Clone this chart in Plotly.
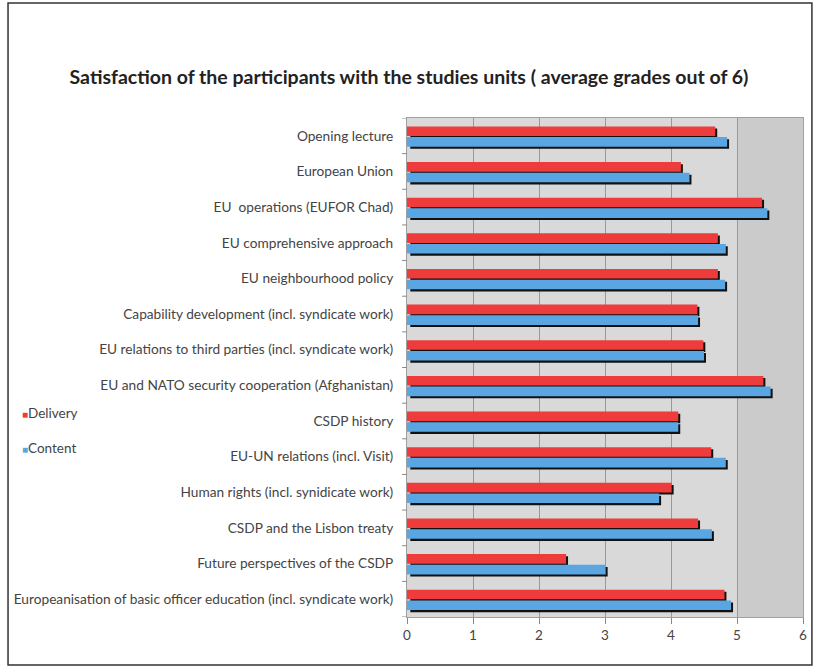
import plotly.graph_objects as go

categories = [
    "Opening lecture",
    "European Union",
    "EU  operations (EUFOR Chad)",
    "EU comprehensive approach",
    "EU neighbourhood policy",
    "Capability development (incl. syndicate work)",
    "EU relations to third parties (incl. syndicate work)",
    "EU and NATO security cooperation (Afghanistan)",
    "CSDP history",
    "EU-UN relations (incl. Visit)",
    "Human rights (incl. synidicate work)",
    "CSDP and the Lisbon treaty",
    "Future perspectives of the CSDP",
    "Europeanisation of basic officer education (incl. syndicate work)",
]
delivery = [4.67, 4.15, 5.38, 4.71, 4.71, 4.40, 4.49, 5.40, 4.11, 4.61, 4.01, 4.41, 2.41, 4.81]
content = [4.85, 4.28, 5.46, 4.83, 4.82, 4.41, 4.50, 5.51, 4.11, 4.83, 3.82, 4.62, 3.01, 4.91]
x_ticks = [0, 1, 2, 3, 4, 5, 6]
series_names = ["Delivery", "Content"]

n = len(categories)
pos = [n - 1 - i for i in range(n)]
RED = "#ee3b3b"
BLUE = "#5aa6e2"
FONT = "Lato, 'Open Sans', sans-serif"
PW, PH = 400, 499  # plot area in px

fig = go.Figure()

# shadows
for vals, off in [(delivery, 0.13), (content, -0.17)]:
    fig.add_trace(go.Bar(
        y=[p + off - 0.06 for p in pos], x=[v + 0.03 - 0.05 for v in vals], base=0.05,
        orientation="h", width=0.27, marker=dict(color="#111111", line_width=0),
        showlegend=False, hoverinfo="skip",
    ))

fig.add_trace(go.Bar(
    y=[p + 0.13 for p in pos], x=delivery, orientation="h", width=0.27,
    marker=dict(color=RED, line_width=0), name=series_names[0], showlegend=False,
))
fig.add_trace(go.Bar(
    y=[p - 0.17 for p in pos], x=content, orientation="h", width=0.27,
    marker=dict(color=BLUE, line_width=0), name=series_names[1], showlegend=False,
))

annotations = []
for name, col, ypx in [(series_names[0], RED, 413), (series_names[1], BLUE, 448)]:
    annotations.append(dict(
        xref="paper", yref="paper", x=(16 - 407) / PW, y=1 - (ypx - 118) / PH,
        xanchor="left", yanchor="middle", showarrow=False,
        text=f"<span style='color:{col};font-size:10px'>■</span>{name}",
        font=dict(family=FONT, size=13.5, color="#444444"),
    ))

fig.update_layout(
    width=818, height=668,
    margin=dict(l=407, r=11, t=118, b=51),
    paper_bgcolor="white",
    plot_bgcolor="#d9d9d9",
    barmode="overlay",
    title=dict(
        text="<b>Satisfaction of the participants with the studies units ( average grades out of 6)</b>",
        x=0.5, xanchor="center", xref="container", y=1 - 77 / 668, yanchor="middle",
        font=dict(family=FONT, size=19.5, color="#222222"),
    ),
    font=dict(family=FONT, size=13.7, color="#444444"),
    annotations=annotations,
    xaxis=dict(
        range=[0, 6], tickvals=x_ticks, ticktext=[str(t) for t in x_ticks],
        showgrid=True, gridcolor="#999999", gridwidth=1,
        ticks="outside", ticklen=6, tickcolor="#888888",
        showline=True, linecolor="#a0a0a0", mirror=True, zeroline=False,
        tickfont=dict(size=13.5, color="#444444"),
    ),
    yaxis=dict(
        range=[-0.5, n - 0.5], tickvals=pos, ticktext=categories,
        showgrid=False, zeroline=False, showline=True, linecolor="#a0a0a0", mirror=True,
        ticks="", tickfont=dict(size=13.7, color="#444444"), ticklabelstandoff=10,
    ),
    shapes=[
        dict(type="rect", xref="x", yref="paper", x0=5, x1=6, y0=0, y1=1,
             fillcolor="#cbcbcb", line_width=0, layer="below"),
        dict(type="rect", xref="paper", yref="paper", x0=-403 / PW, x1=1 + 9 / PW,
             y0=-48 / PH, y1=1 + 115 / PH,
             line=dict(color="#333333", width=1.5), fillcolor="rgba(0,0,0,0)"),
    ],
)

# tick marks on y-axis at category boundaries
for k in range(n + 1):
    fig.add_shape(type="line", xref="paper", yref="y", x0=-5 / PW, x1=0, y0=k - 0.5, y1=k - 0.5,
                  line=dict(color="#888888", width=1))

fig.write_html("out.html")
